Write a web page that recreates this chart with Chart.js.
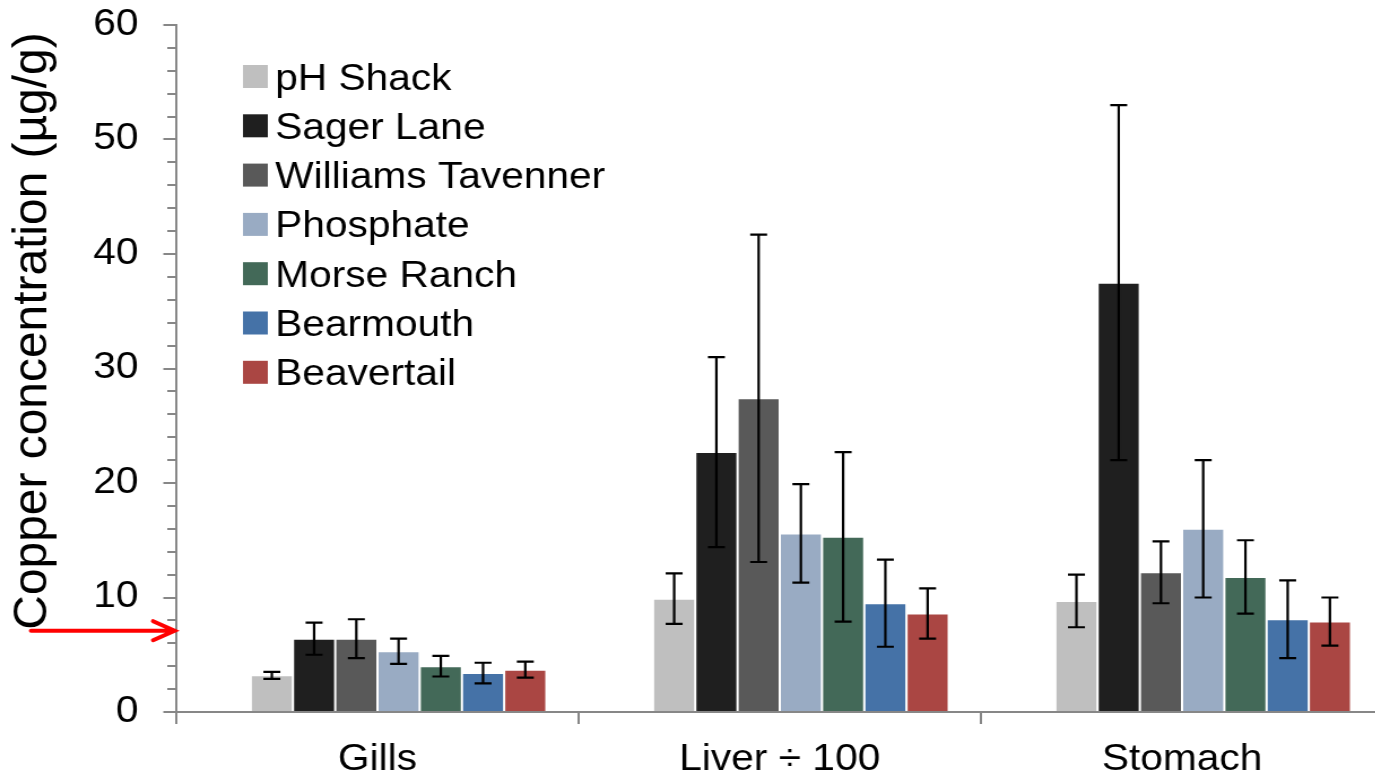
<!DOCTYPE html>
<html><head><meta charset="utf-8">
<script src="https://cdn.jsdelivr.net/npm/chart.js@4.4.1/dist/chart.umd.min.js"></script>
<style>
html,body{margin:0;padding:0;background:#fff;overflow:hidden;width:1375px;height:782px}
canvas{display:block}
</style></head>
<body>
<canvas id="c" width="1230" height="782" style="width:1389.9px;height:782px"></canvas>
<script>
// ---- data ----
const categories = ['Gills', 'Liver \u00f7 100', 'Stomach'];
const seriesNames = ['pH Shack', 'Sager Lane', 'Williams Tavenner', 'Phosphate', 'Morse Ranch', 'Bearmouth', 'Beavertail'];
const phShack      = [3.2, 9.9, 9.7];
const sagerLane    = [6.4, 22.7, 37.5];
const williamsTav  = [6.4, 27.4, 12.2];
const phosphate    = [5.3, 15.6, 16.0];
const morseRanch   = [4.0, 15.3, 11.8];
const bearmouth    = [3.4, 9.5, 8.1];
const beavertail   = [3.7, 8.6, 7.9];
const phShackErr     = [0.3, 2.2, 2.3];
const sagerLaneErr   = [1.4, 8.3, 15.5];
const williamsTavErr = [1.7, 14.3, 2.7];
const phosphateErr   = [1.1, 4.3, 6.0];
const morseRanchErr  = [0.9, 7.4, 3.2];
const bearmouthErr   = [0.9, 3.8, 3.4];
const beavertailErr  = [0.7, 2.2, 2.1];
const yTickValues = [0, 10, 20, 30, 40, 50, 60];
const limitValue = 7.1;   // red arrow marker level
const axisTitle = 'Copper concentration (\u00b5g/g)';

const seriesValues = [phShack, sagerLane, williamsTav, phosphate, morseRanch, bearmouth, beavertail];
const seriesErrors = [phShackErr, sagerLaneErr, williamsTavErr, phosphateErr, morseRanchErr, bearmouthErr, beavertailErr];
const seriesColors = ['#bfbfbf', '#1f1f1f', '#595959', '#99abc3', '#436958', '#4572a7', '#aa4643'];

// ---- styling ----
const STRETCH = 1.13;
const FONT = "'Liberation Sans', Arial, Helvetica, sans-serif";
const AXIS_GRAY = '#878787';
Chart.defaults.font.family = FONT;
Chart.defaults.color = '#000';

const datasets = [{ label: '', data: categories.map(() => null), backgroundColor: 'rgba(0,0,0,0)' }];
seriesNames.forEach((name, i) => {
  datasets.push({
    label: name,
    data: seriesValues[i],
    errors: seriesErrors[i],
    backgroundColor: seriesColors[i],
    borderColor: 'rgba(255,255,255,0.35)',
    borderWidth: 1,
    borderSkipped: 'start'
  });
});

const errorBars = {
  id: 'errorBars',
  afterDatasetsDraw(chart) {
    const ctx = chart.ctx, y = chart.scales.y;
    chart.data.datasets.forEach((ds, i) => {
      if (!ds.errors) return;
      const meta = chart.getDatasetMeta(i);
      meta.data.forEach((el, j) => {
        const v = ds.data[j], e = ds.errors[j];
        if (v == null) return;
        const x = el.x;
        const t = y.getPixelForValue(v + e), b = y.getPixelForValue(v - e);
        ctx.save();
        ctx.strokeStyle = '#000';
        ctx.lineWidth = 2.2;
        ctx.beginPath();
        ctx.moveTo(x, t); ctx.lineTo(x, b);
        ctx.moveTo(x - 7.5, t); ctx.lineTo(x + 7.5, t);
        ctx.moveTo(x - 7.5, b); ctx.lineTo(x + 7.5, b);
        ctx.stroke();
        ctx.restore();
      });
    });
  }
};

const extras = {
  id: 'extras',
  afterDraw(chart) {
    const ctx = chart.ctx, y = chart.scales.y, area = chart.chartArea;
    // minor ticks
    ctx.save();
    ctx.strokeStyle = AXIS_GRAY;
    ctx.lineWidth = 2;
    ctx.beginPath();
    for (let v = y.min; v <= y.max; v += 2) {
      if (v % 10 === 0) continue;
      const py = Math.round(y.getPixelForValue(v));
      ctx.moveTo(area.left - 8, py); ctx.lineTo(area.left, py);
    }
    ctx.stroke();
    ctx.restore();

    // legend inside plot
    ctx.save();
    ctx.font = '36px ' + FONT;
    ctx.textBaseline = 'alphabetic';
    ctx.textAlign = 'left';
    let row = 0;
    chart.data.datasets.forEach(ds => {
      if (!ds.label) return;
      const top = 65 + row * 49.3;
      ctx.fillStyle = ds.backgroundColor;
      ctx.fillRect(215, top, 22, 23);
      ctx.fillStyle = '#000';
      ctx.fillText(ds.label, 243.5, top + 24.5);
      row++;
    });
    ctx.restore();

    // y-axis title (undo horizontal stretch), sized to span ~598px
    ctx.save();
    ctx.font = '48px ' + FONT;
    const w48 = ctx.measureText(axisTitle).width;
    const fs = Math.min(52, Math.max(40, 48 * 598 / w48));
    ctx.translate(46 / STRETCH, 331);
    ctx.scale(1 / STRETCH, 1);
    ctx.rotate(-Math.PI / 2);
    ctx.font = fs.toFixed(1) + 'px ' + FONT;
    ctx.fillStyle = '#000';
    ctx.textAlign = 'center';
    ctx.textBaseline = 'alphabetic';
    ctx.fillText(axisTitle, 0, 0);
    ctx.restore();

    // red arrow
    const ay = y.getPixelForValue(limitValue);
    const tipX = area.left - 1.5;
    ctx.save();
    ctx.strokeStyle = '#ff0000';
    ctx.lineWidth = 4;
    ctx.lineCap = 'round';
    ctx.lineJoin = 'miter';
    ctx.beginPath();
    ctx.moveTo(27.5, ay); ctx.lineTo(tipX, ay);
    ctx.moveTo(tipX - 19, ay - 9.5); ctx.lineTo(tipX, ay); ctx.lineTo(tipX - 19, ay + 9.5);
    ctx.stroke();
    ctx.restore();
  }
};

new Chart(document.getElementById('c'), {
  type: 'bar',
  data: { labels: categories, datasets },
  options: {
    responsive: false,
    animation: false,
    layout: { padding: { top: 25, right: 6, left: 0, bottom: 0 } },
    plugins: { legend: { display: false }, tooltip: { enabled: false } },
    datasets: { bar: { categoryPercentage: 0.84, barPercentage: 1.0 } },
    scales: {
      x: {
        offset: true,
        grid: { display: true, drawOnChartArea: false, drawTicks: true, tickLength: 12, color: AXIS_GRAY, lineWidth: 2, offset: true },
        border: { display: true, color: AXIS_GRAY, width: 2 },
        ticks: { font: { size: 36 }, color: '#000', padding: 14, maxRotation: 0, autoSkip: false },
        afterFit: s => { s.height = 70; s.paddingLeft = 0; s.paddingRight = 0; }
      },
      y: {
        min: 0, max: 60,
        afterBuildTicks: s => { s.ticks = yTickValues.map(v => ({ value: v })); },
        grid: { display: true, drawOnChartArea: false, drawTicks: true, tickLength: 11.5, color: AXIS_GRAY, lineWidth: 2 },
        border: { display: true, color: AXIS_GRAY, width: 2 },
        ticks: { font: { size: 36 }, color: '#000', padding: 22 },
        afterFit: s => { s.width = 156; s.paddingTop = 0; s.paddingBottom = 0; }
      }
    }
  },
  plugins: [errorBars, extras]
});
</script>
</body></html>
